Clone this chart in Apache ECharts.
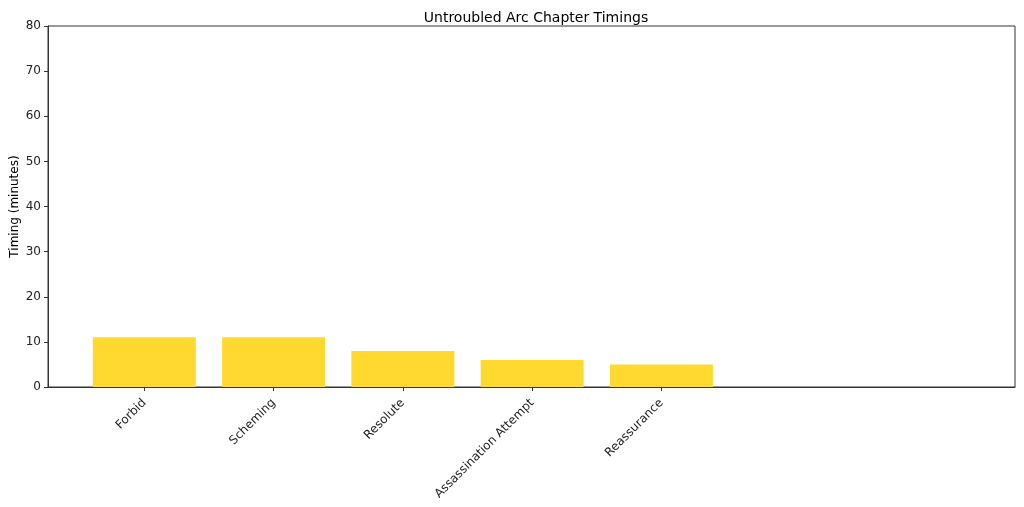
<!DOCTYPE html>
<html><head><meta charset="utf-8">
<script src="https://cdn.jsdelivr.net/npm/echarts@6/dist/echarts.min.js"></script>
<style>html,body{margin:0;padding:0;background:#fff}#c{width:1024px;height:507px}</style>
</head><body><div id="c"></div>
<script>
const categories = ["Forbid", "Scheming", "Resolute", "Assassination Attempt", "Reassurance"];
const timings = [11, 11, 8, 6, 5];
const yTicks = [0, 10, 20, 30, 40, 50, 60, 70, 80];

const chart = echarts.init(document.getElementById('c'), null, {renderer: 'canvas'});
const positions = categories.map((_, i) => i);
chart.setOption({
  animation: false,
  backgroundColor: '#ffffff',
  textStyle: {fontFamily: 'DejaVu Sans'},
  title: {
    text: 'Untroubled Arc Chapter Timings',
    left: 531, top: 6, textAlign: 'center',
    textStyle: {fontFamily: 'DejaVu Sans', fontSize: 14, fontWeight: 'normal', color: '#000'}
  },
  grid: {left: 48, right: 9, top: 26, bottom: 120, containLabel: false, outerBoundsMode: 'none',
         show: true, borderColor: '#333', borderWidth: 1, backgroundColor: 'transparent'},
  xAxis: {
    type: 'value', min: -0.745, max: 6.735,
    splitLine: {show: false},
    axisLine: {show: true, onZero: false, lineStyle: {color: '#333'}},
    axisTick: {show: true, length: 4, lineStyle: {color: '#333'}, customValues: positions},
    axisLabel: {
      rotate: 45, fontSize: 12, color: '#222', margin: 14,
      customValues: positions,
      formatter: v => categories[Math.round(v)] ?? ''
    }
  },
  yAxis: {
    type: 'value', min: yTicks[0], max: yTicks[yTicks.length - 1], interval: 10,
    name: 'Timing (minutes)', nameLocation: 'middle', nameGap: 27, nameMoveOverlap: false,
    nameTextStyle: {fontSize: 12, color: '#000', fontFamily: 'DejaVu Sans'},
    splitLine: {show: false},
    axisLine: {show: true, onZero: false, lineStyle: {color: '#333'}},
    axisTick: {show: true, length: 4, lineStyle: {color: '#333'}},
    axisLabel: {fontSize: 12, color: '#222', margin: 7}
  },
  series: [{
    type: 'bar',
    data: timings.map((v, i) => [positions[i], v]),
    barWidth: 103,
    itemStyle: {color: '#FFD92F'}
  }]
});
</script></body></html>
